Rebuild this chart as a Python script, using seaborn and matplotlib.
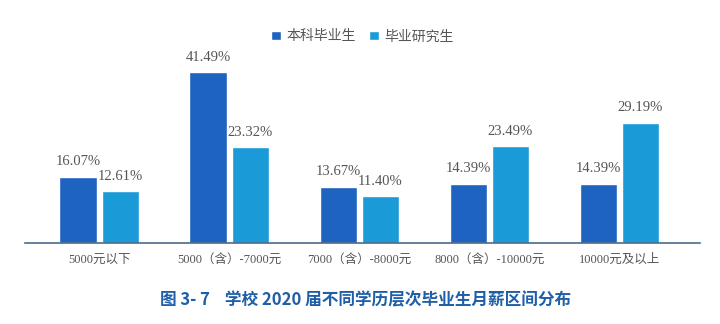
import matplotlib
matplotlib.use("Agg")
import matplotlib.pyplot as plt
import seaborn as sns
import pandas as pd

categories = ["5000元以下", "5000（含）-7000元", "7000（含）-8000元", "8000（含）-10000元", "10000元及以上"]
series_names = ["本科毕业生", "毕业研究生"]
undergrad = [16.07, 41.49, 13.67, 14.39, 14.39]
graduate = [12.61, 23.32, 11.40, 23.49, 29.19]
title = "图 3- 7    学校 2020 届不同学历层次毕业生月薪区间分布"

colors = ["#1e63c0", "#1b9ad8"]

sns.set_theme(style="white")
plt.rcParams['font.family'] = ['Liberation Serif', 'Noto Sans CJK SC', 'DejaVu Sans']

df = pd.DataFrame({
    "cat": categories * 2,
    "series": [series_names[0]] * 5 + [series_names[1]] * 5,
    "value": undergrad + graduate,
})

fig = plt.figure(figsize=(7.2, 3.24), dpi=100)
ax = fig.add_axes([25/720, (324-243)/324, 675/720, (243-40)/324])
sns.barplot(data=df, x="cat", y="value", hue="series", palette=colors,
            width=0.65, gap=0.12, ax=ax, legend=True, saturation=1)

for cont in ax.containers:
    labels = [f"{v:.2f}%" for v in cont.datavalues]
    ax.bar_label(cont, labels=labels, padding=6, fontsize=10.5, color="#555555")

ax.set_xlim(-0.57, 4.62)
ax.set_ylim(0, 41.49 * 203 / 171)
ax.set_xlabel("")
ax.set_ylabel("")
ax.set_yticks([])
for s in ["top", "right", "left"]:
    ax.spines[s].set_visible(False)
ax.spines["bottom"].set_color("#4a6b8a")
ax.spines["bottom"].set_linewidth(1.2)
ax.tick_params(axis="x", length=0, pad=8, labelsize=9, labelcolor="#555555")

leg = ax.legend(loc="upper center", bbox_to_anchor=(0.5, 1.11), ncol=2, frameon=False,
                fontsize=10, handlelength=0.7, handleheight=0.7, columnspacing=1.0,
                handletextpad=0.4, labelcolor="#555555")

fig.text(160/720, 1 - 300/324, title, fontsize=12, fontweight="bold", color="#1f5fa8",
         va="center", ha="left", family=['Noto Sans CJK SC', 'DejaVu Sans'])

fig.savefig("out.png", dpi=100)
